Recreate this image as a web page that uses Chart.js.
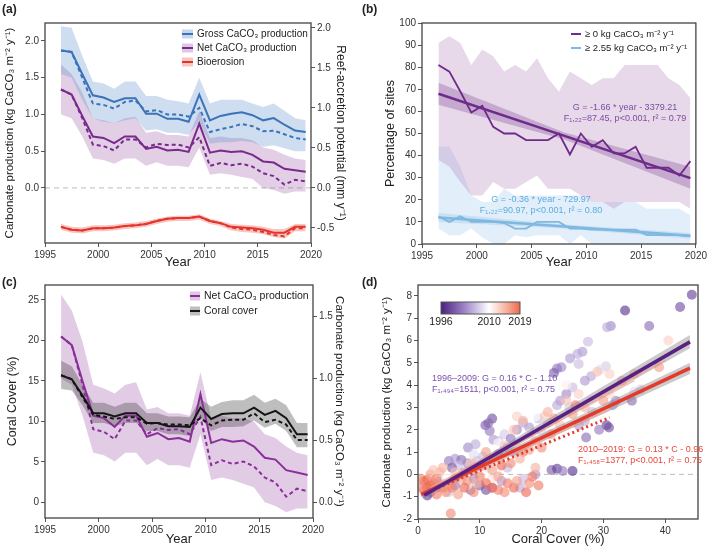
<!DOCTYPE html>
<html>
<head>
<meta charset="utf-8">
<script src="https://cdn.jsdelivr.net/npm/chart.js@4.4.1/dist/chart.umd.min.js"></script>
<style>
body { margin: 0; background: #fff; width: 709px; height: 549px; position: relative; overflow: hidden; }
canvas { position: absolute; }
</style>
</head>
<body>
<canvas id="ca" width="355" height="272" style="left:0;top:0"></canvas>
<canvas id="cb" width="354" height="272" style="left:355px;top:0"></canvas>
<canvas id="cc" width="355" height="277" style="left:0;top:272px"></canvas>
<canvas id="cd" width="354" height="277" style="left:355px;top:272px"></canvas>
<script>
/************* data ********* */
const years = [1996.5, 1997.5, 1998.5, 1999.5, 2000.5, 2001.5, 2002.5, 2003.5, 2004.5, 2005.5, 2006.5, 2007.5,
               2008.5, 2009.5, 2010.5, 2011.5, 2012.5, 2013.5, 2014.5, 2015.5, 2016.5, 2017.5, 2018.5, 2019.5];

// (a) carbonate budgets
const grossMean   = [1.87, 1.85, 1.55, 1.26, 1.23, 1.17, 1.22, 1.22, 1.01, 1.01, 0.94, 0.94, 0.90, 1.27, 0.92, 0.98, 1.01, 1.03, 0.99, 0.92, 0.95, 0.86, 0.78, 0.76];
const grossMedian = [1.87, 1.85, 1.50, 1.15, 1.13, 1.08, 1.17, 1.19, 1.04, 1.06, 1.00, 1.00, 0.97, 1.09, 0.76, 0.80, 0.83, 0.87, 0.84, 0.77, 0.78, 0.73, 0.68, 0.66];
const grossHi     = [2.20, 2.18, 1.80, 1.45, 1.42, 1.35, 1.45, 1.45, 1.25, 1.25, 1.20, 1.18, 1.15, 1.50, 1.15, 1.20, 1.20, 1.20, 1.15, 1.10, 1.15, 1.05, 0.95, 0.92];
const grossLo     = [1.55, 1.50, 1.20, 0.95, 0.90, 0.88, 0.92, 0.95, 0.78, 0.80, 0.75, 0.75, 0.72, 0.90, 0.60, 0.62, 0.62, 0.64, 0.62, 0.56, 0.58, 0.54, 0.50, 0.50];
const netMean     = [1.34, 1.27, 0.98, 0.70, 0.68, 0.61, 0.70, 0.70, 0.53, 0.56, 0.51, 0.52, 0.49, 0.875, 0.48, 0.51, 0.49, 0.50, 0.45, 0.36, 0.345, 0.26, 0.24, 0.22];
const netMedian   = [1.34, 1.27, 0.95, 0.59, 0.57, 0.51, 0.66, 0.66, 0.55, 0.60, 0.585, 0.59, 0.55, 0.69, 0.30, 0.34, 0.31, 0.33, 0.29, 0.20, 0.16, 0.045, 0.11, 0.09];
const netHi       = [1.68, 1.55, 1.30, 0.95, 0.92, 0.88, 0.95, 0.97, 0.75, 0.77, 0.72, 0.72, 0.70, 1.05, 0.68, 0.70, 0.68, 0.68, 0.65, 0.55, 0.52, 0.45, 0.40, 0.38];
const netLo       = [1.00, 0.95, 0.70, 0.40, 0.38, 0.33, 0.40, 0.40, 0.30, 0.35, 0.30, 0.30, 0.28, 0.55, 0.18, 0.20, 0.18, 0.15, 0.12, 0.00, -0.03, -0.08, -0.05, -0.05];
const bioMean     = [-0.53, -0.57, -0.58, -0.55, -0.55, -0.54, -0.52, -0.51, -0.49, -0.45, -0.42, -0.41, -0.41, -0.39, -0.45, -0.48, -0.53, -0.54, -0.55, -0.57, -0.61, -0.61, -0.53, -0.53];
const bioMedian   = [-0.53, -0.57, -0.58, -0.55, -0.55, -0.54, -0.52, -0.51, -0.49, -0.45, -0.42, -0.41, -0.41, -0.39, -0.45, -0.48, -0.54, -0.56, -0.57, -0.60, -0.64, -0.66, -0.55, -0.55];
const bioHi       = [-0.49, -0.53, -0.54, -0.51, -0.51, -0.50, -0.48, -0.47, -0.45, -0.42, -0.39, -0.38, -0.38, -0.36, -0.42, -0.45, -0.49, -0.50, -0.51, -0.53, -0.56, -0.56, -0.49, -0.49];
const bioLo       = [-0.57, -0.61, -0.62, -0.59, -0.59, -0.58, -0.56, -0.55, -0.53, -0.49, -0.46, -0.45, -0.45, -0.43, -0.49, -0.52, -0.58, -0.60, -0.61, -0.63, -0.67, -0.69, -0.59, -0.59];

// (b) percentage of sites
const pos0     = [81, 78, 69, 59.5, 62.5, 53, 50, 50, 47, 47, 47, 50, 40.5, 50, 44, 47, 41, 41, 44, 34.5, 34.5, 34.5, 31, 37.5];
const pos0Hi   = [91, 94, 91, 81, 88, 85, 78, 81, 78, 84, 75, 69, 78, 75, 72, 75, 75, 81, 81, 81, 81, 75, 72, 66];
const pos0Lo   = [38, 35, 28, 22, 22, 28, 25, 25, 28, 31, 25, 25, 25, 22, 19, 19, 16, 19, 19, 19, 19, 19, 19, 16];
const pos255   = [12.5, 10, 12.5, 10, 10, 10, 9.5, 7, 7, 10, 10, 10, 7, 7, 6.5, 6.5, 6.5, 6.5, 6.5, 4, 4, 4, 4, 3.5];
const pos255Hi = [44, 44, 35, 22, 19, 19, 25, 22, 22, 22, 22, 22, 22, 22, 19, 19, 19, 19, 19, 16, 16, 16, 16, 13];
const pos255Lo = [7, 4, 4, 7, 3, 0, 0, 4, 3, 4, 4, 4, 0, 4, 0, 0, 0, 0, 0, 0, 0, 0, 0, 0];
const trendX     = [1996.5, 2008, 2019.5];
const trend0     = [68, 48.9, 29.8];
const trend0Hi   = [73, 50.5, 35];
const trend0Lo   = [63, 47.3, 25];
const trend255   = [12, 7.9, 3.7];
const trend255Hi = [14, 8.8, 5];
const trend255Lo = [10, 7, 2.4];

// (c) coral cover
const coral       = [15.7, 15.2, 13.2, 11.0, 11.0, 10.6, 11.0, 11.0, 9.8, 9.8, 9.4, 9.4, 9.3, 11.7, 10.3, 10.9, 11.0, 11.0, 11.7, 10.8, 11.3, 10.4, 8.4, 8.4];
const coralMedian = [15.7, 15.2, 13.0, 10.8, 10.6, 10.3, 10.5, 10.5, 9.7, 9.8, 9.6, 9.6, 9.5, 10.4, 9.5, 10.1, 10.2, 10.2, 11.0, 9.9, 10.2, 9.6, 7.7, 7.7];
const coralHi     = [17.5, 16.8, 14.5, 12.3, 12.3, 11.8, 12.3, 12.3, 11.0, 11.0, 10.6, 10.6, 10.5, 12.8, 11.8, 12.4, 12.6, 12.6, 13.3, 12.3, 12.8, 12.0, 9.8, 9.8];
const coralLo     = [14.0, 13.8, 12.0, 9.8, 9.8, 9.4, 9.8, 9.8, 8.8, 8.8, 8.4, 8.4, 8.2, 10.5, 8.8, 9.3, 9.3, 9.4, 10.1, 9.2, 9.7, 8.8, 6.8, 6.8];

// (d) site-level production vs coral cover
const dCover = [44.3, 42.4, 33.5, 37.4, 31.2, 30.6, 27.5, 26.6, 25.8, 24.6, 23.2, 22.5, 22, 26, 30.4, 29.5, 28, 27, 25, 24,
  23, 22.5, 34.6, 32, 31.5, 28.2, 27, 26, 30.5, 30.9, 29.3, 27.2, 25, 21.6, 22.5, 23.4, 12, 11.4, 10.9, 11.6,
  12.2, 8.1, 9.3, 5, 6, 7, 8, 6.5, 5.5, 16, 17, 18, 19.5, 14, 15, 13, 14, 10, 11, 12,
  13.5, 9, 1.5, 2, 3, 4, 16.5, 17, 19, 9.5, 10.5, 7.5, 8.5, 6, 14.5, 15.5, 20, 21, 13, 11,
  3.5, 5, 24.5, 35, 36,
  34, 20, 24, 10, 13, 8, 18, 11, 22, 16, 7, 4.5, 28, 31, 14, 12, 19, 9,
  0.5, 1, 1.5, 2, 2.5, 3, 3.5, 4, 4.5, 5, 5.5, 6, 7, 8, 9, 10, 12, 13, 14, 15.5,
  16, 18, 19.5, 10.5, 12.5, 14, 15.5, 16, 17, 18, 19, 20.5, 21, 22, 24, 26, 29, 31, 33, 35,
  39, 40.5, 5.3, 13, 15, 17, 11, 1, 2, 3, 6.5, 7.5, 9, 11, 8.5, 6, 17.5, 14.5, 19, 20,
  23, 25, 27, 30, 25.5, 21.5, 16.5, 4, 2.5, 1.5, 0.5, 9.5, 12, 13.5, 18.5];
const dProd = [8.05, 7.5, 7.35, 6.65, 6.65, 6.6, 5.95, 5.5, 5.4, 5.2, 4.8, 4.75, 4.55, 4.95, 4.85, 4.7, 4.4, 4.2, 3.9, 3.6,
  3.3, 3.1, 3.3, 3.3, 3.1, 2.8, 2.4, 2.2, 2.2, 2.1, 2.0, 1.65, 0.15, 0.2, 0.25, 0.15, 2.5, 2.3, 2.2, 1.95,
  1.55, 1.2, 1.35, 0.6, 0.7, 0.65, 0.5, 0.4, 0.3, 2.0, 2.3, 2.1, 2.5, 1.8, 1.6, 0.9, 1.2, -0.5, -0.7, -0.6,
  -0.3, -0.2, -0.95, -0.8, -0.6, -0.4, -0.6, -0.2, 0.0, 0.6, 0.8, 0.1, -0.7, -0.5, 0.3, 1.0, 1.9, 2.3, 1.5, 0.3,
  -0.3, -0.8, 3.0, 3.7, 3.8,
  5.5, 3.0, 4.0, 0.5, 1.4, -0.5, 1.8, 0.0, 2.0, 1.2, -0.2, -0.1, 3.3, 3.6, 0.6, -0.2, 2.6, 0.9,
  -0.2, -0.3, -0.25, 0.0, -0.4, -0.2, 0.1, -0.6, -0.8, -0.5, -0.6, 0.1, -0.2, -0.3, 0.2, -0.1, -0.6, -0.7, -0.8, -0.6,
  -0.3, -0.4, -0.5, 0.4, 0.8, 1.3, 2.0, 2.6, 2.4, 1.1, 1.5, 2.6, 2.8, 2.5, 3.3, 3.6, 4.6, 4.5, 4.2, 4.5,
  4.8, 6.0, -1.75, -0.1, 0.5, 1.0, 1.0, -0.7, -0.5, -0.9, -0.9, -0.6, -0.8, -0.4, 0.5, -0.2, -0.8, -0.4, 0.3, 1.2,
  2.2, 2.7, 3.0, 3.3, 3.1, 1.8, 0.7, 0.3, 0.2, -0.6, -0.6, -0.4, 0.2, 0.4, -0.1];
const dYear = [1998, 1999, 1997, 2001, 2003, 2005, 2006, 2004, 2005, 2004, 2003, 2002, 2000, 2006, 2007, 2008, 2005, 2004, 2006, 2003,
  2004, 2005, 2001, 2003, 2004, 2006, 2005, 2004, 1998, 1999, 2002, 2001, 1997, 2000, 1998, 2002, 1999, 2001, 2000, 2002,
  2004, 2003, 2005, 2002, 2004, 2001, 2003, 2006, 2000, 2003, 2005, 2004, 2006, 2007, 2002, 2001, 2003, 2000, 1999, 2002,
  2004, 2003, 1998, 2000, 2003, 2005, 2005, 2006, 2004, 2005, 2006, 2004, 2001, 2002, 2006, 2004, 2007, 2006, 2006, 2007,
  2006, 2007, 2007, 2008, 2007,
  2010, 2010, 2011, 2009, 2010, 2011, 2009, 2010, 2011, 2012, 2009, 2010, 2009, 2012, 2011, 2012, 2010, 2008,
  2017, 2018, 2019, 2016, 2017, 2018, 2015, 2019, 2017, 2016, 2018, 2014, 2015, 2017, 2016, 2018, 2019, 2018, 2017, 2019,
  2016, 2017, 2018, 2015, 2014, 2013, 2014, 2013, 2015, 2016, 2014, 2013, 2015, 2016, 2014, 2013, 2014, 2013, 2015, 2014,
  2016, 2013, 2017, 2016, 2017, 2018, 2016, 2016, 2019, 2018, 2016, 2019, 2017, 2019, 2014, 2017, 2019, 2018, 2015, 2017,
  2014, 2016, 2015, 2016, 2018, 2016, 2015, 2015, 2014, 2019, 2018, 2015, 2016, 2019, 2018];
const fitEarlyX = [1, 44],  fitEarly = [-0.94, 5.94], fitEarlyHi = [-0.80, 6.25], fitEarlyLo = [-1.05, 5.65];
const fitLateX  = [0.5, 44], fitLate = [-0.90, 4.76], fitLateHi  = [-0.78, 5.0],  fitLateLo  = [-1.02, 4.5];
const fitLateMedX = [1, 31],  fitLateMed = [-0.85, 2.55];
const yearFitsX = [[2, 40], [4, 35], [3, 31]];
const yearFits  = [[-0.6, 5.1], [-0.4, 4.2], [-0.6, 2.9]];
const cbarYears = [1996, 2010, 2019];

// tick labels
const yearTicks = [1995, 2000, 2005, 2010, 2015, 2020];
const aLeftTicks = [0, 0.5, 1, 1.5, 2];
const aRightTicks = [-0.5, 0, 0.5, 1, 1.5, 2];
const bTicks = [0, 10, 20, 30, 40, 50, 60, 70, 80, 90, 100];
const cLeftTicks = [0, 5, 10, 15, 20, 25];
const cRightTicks = [0, 0.5, 1, 1.5];
const dXTicks = [0, 10, 20, 30, 40];
const dYTicks = [-2, -1, 0, 1, 2, 3, 4, 5, 6, 7, 8];

/************* helpers ********* */
const FONT = "'Liberation Sans', Arial, sans-serif";
Chart.defaults.font.family = FONT;
Chart.defaults.color = '#333';
Chart.defaults.animation = false;

const pts = (xs, ys) => xs.map((x, i) => ({x: x, y: ys[i]}));

function line(xs, ys, color, width, dash, axis) {
    return {data: pts(xs, ys), borderColor: color, borderWidth: width, borderDash: dash || [],
            pointRadius: 0, fill: false, tension: 0, yAxisID: axis || 'y', order: 0};
}
function band(xs, hi, lo, color, axis) {
    return [
        {data: pts(xs, hi), borderWidth: 0, pointRadius: 0, fill: '+1', backgroundColor: color, yAxisID: axis || 'y', order: 5},
        {data: pts(xs, lo), borderWidth: 0, pointRadius: 0, fill: false, yAxisID: axis || 'y', order: 5}
    ];
}
function axis(pos, min, max, ticks, title, size, fmt, titleSize) {
    const horiz = pos === 'bottom';
    return {
        type: 'linear', position: pos, min: min, max: max,
        afterBuildTicks: ax => { ax.ticks = ticks.map(v => ({value: v})); },
        afterFit: ax => { if (horiz) ax.height = size; else ax.width = size; },
        grid: {drawOnChartArea: false, drawTicks: true, tickLength: 4, color: '#555'},
        border: {display: false},
        ticks: {font: {size: 10}, color: '#333', padding: 2, maxRotation: 0, callback: fmt || (v => v)},
        title: {display: !!title, text: title, font: {size: titleSize || (horiz ? 13 : 12.5)}, color: '#222', padding: {top: 0, bottom: 2}}
    };
}
const frame = {
    id: 'frame',
    afterDatasetsDraw(c) {
        const a = c.chartArea, ctx = c.ctx;
        ctx.save();
        ctx.strokeStyle = '#444';
        ctx.lineWidth = 1.3;
        ctx.strokeRect(a.left, a.top, a.right - a.left, a.bottom - a.top);
        ctx.restore();
    }
};
const zeroLine = {
    id: 'zeroLine',
    beforeDatasetsDraw(c) {
        const a = c.chartArea, ctx = c.ctx, py = c.scales.y.getPixelForValue(0);
        ctx.save();
        ctx.strokeStyle = '#bbb';
        ctx.lineWidth = 1;
        ctx.setLineDash([5, 4]);
        ctx.beginPath(); ctx.moveTo(a.left, py); ctx.lineTo(a.right, py); ctx.stroke();
        ctx.restore();
    }
};
function texts(items) {
    return {
        id: 'texts',
        afterDraw(c) {
            const ctx = c.ctx;
            ctx.save();
            items.forEach(t => {
                ctx.font = (t.bold ? 'bold ' : '') + t.size + 'px ' + FONT;
                ctx.fillStyle = t.color || '#222';
                ctx.textAlign = t.align || 'left';
                ctx.textBaseline = 'middle';
                ctx.fillText(t.t, t.x, t.y);
            });
            ctx.restore();
        }
    };
}
function legend(items, x, y0, dy, w, size) {
    return {
        id: 'legendBox',
        afterDraw(c) {
            const ctx = c.ctx;
            ctx.save();
            items.forEach((it, i) => {
                const y = y0 + i * dy;
                if (it.fill) { ctx.fillStyle = it.fill; ctx.fillRect(x, y - 4.5, w, 9); }
                ctx.strokeStyle = it.color; ctx.lineWidth = 2;
                ctx.beginPath(); ctx.moveTo(x, y); ctx.lineTo(x + w, y); ctx.stroke();
                ctx.font = size + 'px ' + FONT;
                ctx.fillStyle = '#222'; ctx.textBaseline = 'middle';
                ctx.fillText(it.t, x + w + 4, y);
            });
            ctx.restore();
        }
    };
}
const f1 = v => v.toFixed(1);
const base = (padding) => ({responsive: false, events: [], layout: {padding: padding},
                            plugins: {legend: {display: false}, tooltip: {enabled: false}}});

/************* chart a ********* */
const BLUE = '#3a73b8', PURPLE = '#7a2a8c', RED = '#e4352b';
new Chart('ca', {
    type: 'line',
    data: {datasets: [
        line(years, grossMean, BLUE, 2), line(years, grossMedian, BLUE, 2, [4, 3]),
        line(years, netMean, PURPLE, 2), line(years, netMedian, PURPLE, 2, [4, 3]),
        line(years, bioMean, RED, 2), line(years, bioMedian, RED, 2, [4, 3]),
        ...band(years, grossHi, grossLo, 'rgba(92,142,205,0.30)'),
        ...band(years, netHi, netLo, 'rgba(160,95,170,0.30)'),
        ...band(years, bioHi, bioLo, 'rgba(235,90,80,0.35)')
    ]},
    options: Object.assign(base({top: 23, left: 3, right: 7, bottom: 0}), {
        scales: {
            x: axis('bottom', 1995, 2020, yearTicks, 'Year', 29),
            y: axis('left', -0.75, 2.245, aLeftTicks, 'Carbonate production (kg CaCO₃ m⁻² y⁻¹)', 42, f1, 11.5),
            y2: axis('right', -0.69, 2.06, aRightTicks, 'Reef-accretion potential (mm y⁻¹)', 37, f1, 12)
        }
    }),
    plugins: [frame, zeroLine,
        legend([{t: 'Gross CaCO₃ production', color: BLUE, fill: 'rgba(92,142,205,0.35)'},
                {t: 'Net CaCO₃ production', color: PURPLE, fill: 'rgba(160,95,170,0.35)'},
                {t: 'Bioerosion', color: RED, fill: 'rgba(235,90,80,0.35)'}], 182, 34, 14, 11, 10),
        texts([{t: '(a)', x: 2, y: 10, size: 12, bold: true}])]
});

/************* chart b ********* */
const BPURPLE = '#6e2b8b', BBLUE = '#7fb8e0';
new Chart('cb', {
    type: 'line',
    data: {datasets: [
        line(trendX, trend0, BPURPLE, 2.5), line(trendX, trend255, BBLUE, 2.5),
        line(years, pos0, BPURPLE, 1.8), line(years, pos255, BBLUE, 1.8),
        ...band(trendX, trend0Hi, trend0Lo, 'rgba(120,60,140,0.30)'),
        ...band(trendX, trend255Hi, trend255Lo, 'rgba(120,180,225,0.25)'),
        ...band(years, pos0Hi, pos0Lo, 'rgba(175,125,185,0.30)'),
        ...band(years, pos255Hi, pos255Lo, 'rgba(160,200,235,0.30)')
    ]},
    options: Object.assign(base({top: 23, left: 28, right: 12, bottom: 0}), {
        scales: {
            x: axis('bottom', 1995, 2020, yearTicks, 'Year', 28),
            y: axis('left', 0, 100, bTicks, 'Percentage of sites', 39)
        }
    }),
    plugins: [frame,
        legend([{t: '≥ 0 kg CaCO₃ m⁻² y⁻¹', color: BPURPLE},
                {t: '≥ 2.55 kg CaCO₃ m⁻² y⁻¹', color: BBLUE}], 216, 34, 14, 10, 9.5),
        texts([{t: '(b)', x: 7, y: 10, size: 12, bold: true},
               {t: 'G = -1.66 * year - 3379.21', x: 270, y: 108, size: 9, color: '#7e4c9e', align: 'center'},
               {t: 'F₁,₂₂=87.45, p<0.001, r² = 0.79', x: 270, y: 119, size: 9, color: '#7e4c9e', align: 'center'},
               {t: 'G = -0.36 * year - 729.97', x: 186, y: 200, size: 9, color: '#5aade0', align: 'center'},
               {t: 'F₁,₂₂=90.97, p<0.001, r² = 0.80', x: 186, y: 211, size: 9, color: '#5aade0', align: 'center'}])]
});

/************* chart c ********* */
const CPURPLE = '#8a2f9a', BLACK = '#151515';
new Chart('cc', {
    type: 'line',
    data: {datasets: [
        line(years, coral, BLACK, 2), line(years, coralMedian, BLACK, 2, [4, 3]),
        line(years, netMean, CPURPLE, 2, null, 'y2'), line(years, netMedian, CPURPLE, 2, [4, 3], 'y2'),
        ...band(years, coralHi, coralLo, 'rgba(40,40,40,0.30)'),
        ...band(years, netHi, netLo, 'rgba(165,95,175,0.32)', 'y2')
    ]},
    options: Object.assign(base({top: 13, left: 5, right: 9, bottom: 0}), {
        scales: {
            x: axis('bottom', 1995, 2020, yearTicks, 'Year', 31),
            y: axis('left', -1.94, 26.85, cLeftTicks, 'Coral Cover (%)', 40),
            y2: axis('right', -0.127, 1.756, cRightTicks, 'Carbonate production (kg CaCO₃ m⁻² y⁻¹)', 33, f1, 11.5)
        }
    }),
    plugins: [frame,
        legend([{t: 'Net CaCO₃ production', color: CPURPLE, fill: 'rgba(165,95,175,0.35)'},
                {t: 'Coral cover', color: BLACK, fill: 'rgba(40,40,40,0.30)'}], 190, 24, 15, 10, 10.5),
        texts([{t: '(c)', x: 2, y: 11, size: 12, bold: true}])]
});

/************* chart d ********* */
const cStops = [[1996, [74, 32, 128]], [2003, [160, 135, 200]], [2010, [255, 255, 255]], [2015, [246, 178, 158]], [2019, [238, 104, 80]]];
function yearColor(yr, a) {
    for (let i = 1; i < cStops.length; i++) {
        if (yr <= cStops[i][0]) {
            const [y0, c0] = cStops[i - 1], [y1, c1] = cStops[i], f = (yr - y0) / (y1 - y0);
            const c = c0.map((v, k) => Math.round(v + (c1[k] - v) * f));
            return 'rgba(' + c.join(',') + ',' + a + ')';
        }
    }
    return 'rgba(' + cStops[cStops.length - 1][1].join(',') + ',' + a + ')';
}
const colorbar = {
    id: 'colorbar',
    afterDraw(c) {
        const ctx = c.ctx, x0 = 86, x1 = 165, y0 = 30, h = 12;
        const g = ctx.createLinearGradient(x0, 0, x1, 0);
        cStops.forEach(s => g.addColorStop((s[0] - 1996) / 23, yearColor(s[0], 1)));
        ctx.save();
        ctx.fillStyle = g; ctx.fillRect(x0, y0, x1 - x0, h);
        ctx.strokeStyle = '#555'; ctx.lineWidth = 1; ctx.strokeRect(x0, y0, x1 - x0, h);
        ctx.font = '10.5px ' + FONT; ctx.fillStyle = '#222'; ctx.textAlign = 'center'; ctx.textBaseline = 'middle';
        cbarYears.forEach(yr => ctx.fillText(String(yr), x0 + (x1 - x0) * (yr - 1996) / 23, y0 + h + 8));
        ctx.restore();
    }
};
const LPURPLE = '#5a2183', LRED = '#e5392c';
new Chart('cd', {
    type: 'line',
    data: {datasets: [
        line(fitEarlyX, fitEarly, LPURPLE, 3.5),
        line(fitLateX, fitLate, LRED, 3.5),
        line(fitLateMedX, fitLateMed, LRED, 3, [2, 3]),
        ...band(fitEarlyX, fitEarlyHi, fitEarlyLo, 'rgba(140,140,140,0.45)'),
        ...band(fitLateX, fitLateHi, fitLateLo, 'rgba(140,140,140,0.45)'),
        ...yearFitsX.map((xs, i) => Object.assign(line(xs, yearFits[i], 'rgba(245,160,140,0.7)', 1.5), {order: 3})),
        {data: pts(dCover, dProd), showLine: false, pointRadius: 5, pointBorderWidth: 0,
         pointBackgroundColor: dYear.map(yr => yearColor(yr, 0.62)), order: 10}
    ]},
    options: Object.assign(base({top: 13, left: 25, right: 11, bottom: 0}), {
        scales: {
            x: axis('bottom', 0, 45.3, dXTicks, 'Coral Cover (%)', 30),
            y: axis('left', -2, 8.49, dYTicks, 'Carbonate production (kg CaCO₃ m⁻² y⁻¹)', 38, null, 11.5)
        }
    }),
    plugins: [frame, zeroLine, colorbar,
        texts([{t: '(d)', x: 7, y: 11, size: 12, bold: true},
               {t: '1996–2009: G = 0.16 * C - 1.10', x: 77, y: 107, size: 9, color: '#7a50b0'},
               {t: 'F₁,₄₉₄=1511, p<0.001, r² = 0.75', x: 77, y: 118, size: 9, color: '#7a50b0'},
               {t: '2010–2019: G = 0.13 * C - 0.96', x: 223, y: 178, size: 9, color: '#e8473c'},
               {t: 'F₁,₄₅₈=1377, p<0.001, r² = 0.75', x: 223, y: 189, size: 9, color: '#e8473c'}])]
});
</script>
</body>
</html>
